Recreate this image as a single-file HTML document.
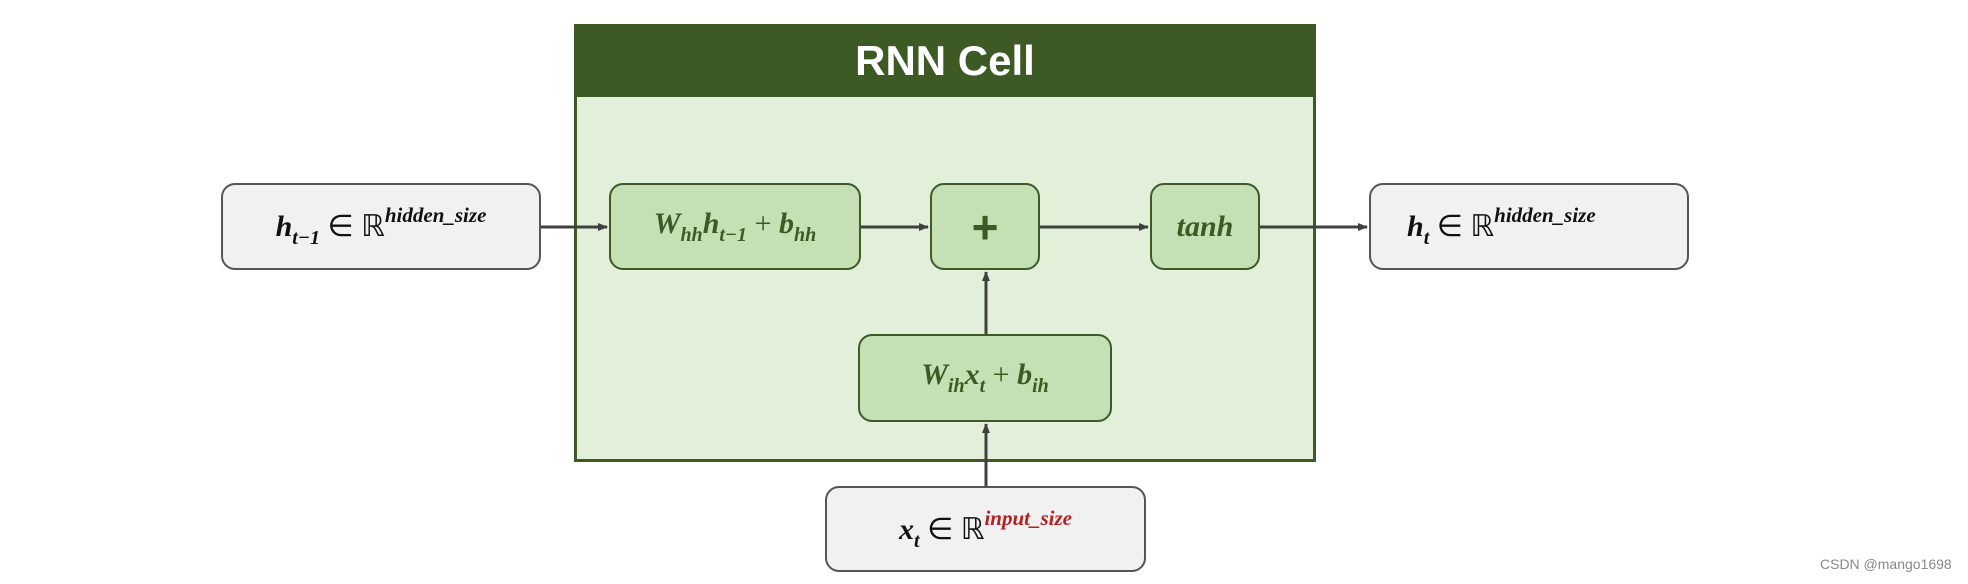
<!DOCTYPE html>
<html><head><meta charset="utf-8"><style>
html,body{margin:0;padding:0;background:#fff;}
body{width:1968px;height:584px;position:relative;overflow:hidden;font-family:"Liberation Serif",serif;}
.b{position:absolute;box-sizing:border-box;border-radius:14px;display:flex;align-items:center;justify-content:center;}
.g{background:#c5e0b4;border:2px solid #3d5a28;color:#3d5a24;}
.w{background:#f1f1f1;border:2px solid #555;color:#111;}
.m{font-style:italic;font-weight:bold;font-size:30px;white-space:nowrap;}
sub{font-size:20px;vertical-align:-8px;}
sup{font-size:21px;vertical-align:14px;}
.n{font-style:normal;font-weight:normal;}
</style></head><body>
<div style="position:absolute;left:574px;top:24px;width:742px;height:438px;background:#e2efd9;border:3px solid #3d5a28;box-sizing:border-box;"></div>
<div style="position:absolute;left:574px;top:24px;width:742px;height:73px;background:#3d5a24;color:#fff;font-family:'Liberation Sans',sans-serif;font-weight:bold;font-size:42px;display:flex;align-items:center;justify-content:center;">RNN Cell</div>

<svg width="1968" height="584" style="position:absolute;left:0;top:0" xmlns="http://www.w3.org/2000/svg">
<defs><marker id="a" markerWidth="10" markerHeight="8" refX="9" refY="4" orient="auto" markerUnits="userSpaceOnUse"><path d="M0,0 L10,4 L0,8 z" fill="#404040"/></marker></defs>
<g stroke="#404040" stroke-width="3" fill="none">
<line x1="541" y1="227" x2="607" y2="227" marker-end="url(#a)"/>
<line x1="861" y1="227" x2="928" y2="227" marker-end="url(#a)"/>
<line x1="1040" y1="227" x2="1148" y2="227" marker-end="url(#a)"/>
<line x1="1260" y1="227" x2="1367" y2="227" marker-end="url(#a)"/>
<line x1="986" y1="334" x2="986" y2="272" marker-end="url(#a)"/>
<line x1="986" y1="486" x2="986" y2="424" marker-end="url(#a)"/>
</g></svg>

<div class="b w" style="left:221px;top:183px;width:320px;height:87px;"><span class="m">h<sub>t−1</sub> <span class="n">∈ ℝ</span><sup>hidden_size</sup></span></div>
<div class="b g" style="left:609px;top:183px;width:252px;height:87px;"><span class="m">W<sub>hh</sub>h<sub>t−1</sub> <span class="n">+</span> b<sub>hh</sub></span></div>
<div class="b g" style="left:930px;top:183px;width:110px;height:87px;"><span style="font-family:'Liberation Sans',sans-serif;font-weight:bold;font-size:46px;">+</span></div>
<div class="b g" style="left:1150px;top:183px;width:110px;height:87px;"><span class="m">tanh</span></div>
<div class="b w" style="left:1369px;top:183px;width:320px;height:87px;justify-content:flex-start;padding-left:36px;"><span class="m">h<sub>t</sub> <span class="n">∈ ℝ</span><sup>hidden_size</sup></span></div>
<div class="b g" style="left:858px;top:334px;width:254px;height:88px;"><span class="m">W<sub>ih</sub>x<sub>t</sub> <span class="n">+</span> b<sub>ih</sub></span></div>
<div class="b w" style="left:825px;top:486px;width:321px;height:86px;"><span class="m">x<sub>t</sub> <span class="n">∈ ℝ</span><sup style="color:#b22222">input_size</sup></span></div>

<div style="position:absolute;left:1820px;top:556px;font-family:'Liberation Sans',sans-serif;font-size:14px;color:#888;">CSDN @mango1698</div>
</body></html>
